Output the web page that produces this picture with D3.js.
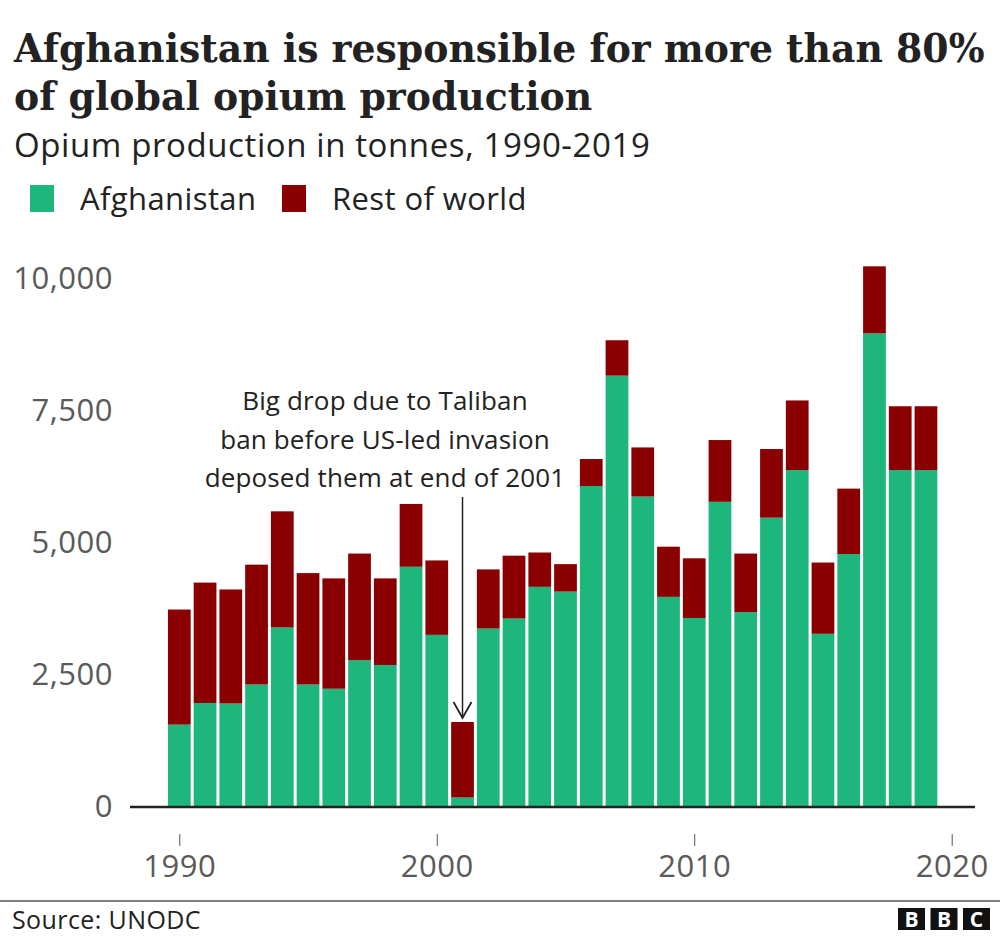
<!DOCTYPE html>
<html>
<head>
<meta charset="utf-8">
<script src="https://cdn.jsdelivr.net/npm/d3@7"></script>
<style>
    body { margin: 0; background: #fff; }
    text { font-family: "Open Sans", "Noto Sans", sans-serif; }
</style>
</head>
<body>
<main></main>
<script>
const years = [1990, 1991, 1992, 1993, 1994, 1995, 1996, 1997, 1998, 1999,
               2000, 2001, 2002, 2003, 2004, 2005, 2006, 2007, 2008, 2009,
               2010, 2011, 2012, 2013, 2014, 2015, 2016, 2017, 2018, 2019];
const afghanistan = [1560, 1970, 1960, 2320, 3400, 2320, 2240, 2780, 2690, 4550,
                     3260, 180, 3380, 3570, 4170, 4080, 6080, 8170, 5880, 3980,
                     3580, 5780, 3690, 5480, 6380, 3280, 4790, 8970, 6380, 6380];
const restOfWorld = [2180, 2280, 2160, 2270, 2200, 2110, 2090, 2020, 1640, 1190,
                     1410, 1430, 1120, 1190, 650, 520, 510, 670, 930, 950,
                     1130, 1170, 1110, 1300, 1320, 1350, 1240, 1270, 1210, 1210];
const seriesNames = ["Afghanistan", "Rest of world"];
const yTicks = [0, 2500, 5000, 7500, 10000];
const xTicks = [1990, 2000, 2010, 2020];
const annotationLines = ["Big drop due to Taliban", "ban before US-led invasion", "deposed them at end of 2001"];

const svgSize = { width: 1000, height: 938 };
const colors = { "Afghanistan": "#1db77d", "Rest of world": "#8a0000" };
const baseY = 807;

const svg = d3.select("main")
    .append("svg")
    .attr("width", svgSize.width)
    .attr("height", svgSize.height);

// title: serif bold, squeezed horizontally to the reference width
const titleLines = ["Afghanistan is responsible for more than 80%", "of global opium production"];
const titleText = svg.selectAll(".title")
    .data(titleLines)
    .enter()
    .append("text")
    .attr("class", "title")
    .style("font-family", "'DejaVu Serif', serif")
    .attr("font-weight", "bold")
    .attr("font-size", 40)
    .attr("fill", "#222")
    .text(d => d);
const sx = 971 / titleText.node().getComputedTextLength();
titleText.attr("transform", (d, i) => `translate(14,${62 + i * 48}) scale(${sx},1)`);

svg.append("text")
    .attr("x", 14).attr("y", 157)
    .attr("font-size", 33).attr("letter-spacing", 0.6).attr("fill", "#222")
    .text("Opium production in tonnes, 1990-2019");

// legend
const legendX = [30, 282];
seriesNames.forEach((name, i) => {
    svg.append("rect")
        .attr("x", legendX[i]).attr("y", 185)
        .attr("width", 24).attr("height", 27)
        .attr("fill", colors[name]);
    svg.append("text")
        .attr("x", legendX[i] + 50).attr("y", 210)
        .attr("font-size", 31).attr("letter-spacing", 0.4).attr("fill", "#222")
        .text(name);
});

// scales
const xScale = d3.scaleLinear()
    .domain([1990, 2020])
    .range([179.3, 951.7]);
const yScale = d3.scaleLinear()
    .domain([0, 10000])
    .range([baseY, 279]);
const step = xScale(1991) - xScale(1990);
const barWidth = step - 3;

// y axis labels only
svg.append("g")
    .attr("transform", "translate(113,0)")
    .call(d3.axisLeft(yScale).tickValues(yTicks).tickFormat(d3.format(",")).tickSize(0).tickPadding(0))
    .call(g => g.select(".domain").remove())
    .call(g => g.selectAll("text")
        .attr("font-family", "'Open Sans', sans-serif")
        .attr("font-size", 31).attr("letter-spacing", 0.5).attr("fill", "#5a5a5a"));

// stacked bars
const table = years.map((y, i) => ({ year: y, "Afghanistan": afghanistan[i], "Rest of world": restOfWorld[i] }));
const stacked = d3.stack().keys(seriesNames)(table);

svg.append("g")
    .selectAll("g")
    .data(stacked)
    .enter()
    .append("g")
    .attr("fill", d => colors[d.key])
    .selectAll("rect")
    .data(d => d)
    .enter()
    .append("rect")
    .attr("x", d => xScale(d.data.year) - barWidth / 2)
    .attr("y", d => yScale(d[1]))
    .attr("width", barWidth)
    .attr("height", d => yScale(d[0]) - yScale(d[1]));

// baseline
svg.append("line")
    .attr("x1", 130).attr("x2", 975)
    .attr("y1", baseY).attr("y2", baseY)
    .attr("stroke", "#222").attr("stroke-width", 2.5);

// x axis
svg.append("g")
    .attr("transform", "translate(0,834)")
    .call(d3.axisBottom(xScale).tickValues(xTicks).tickFormat(d => d).tickSize(12).tickPadding(9))
    .call(g => g.select(".domain").remove())
    .call(g => g.selectAll("line").attr("stroke", "#555"))
    .call(g => g.selectAll("text")
        .attr("font-family", "'Open Sans', sans-serif")
        .attr("font-size", 31).attr("letter-spacing", 0.5).attr("fill", "#5a5a5a"));

// annotation
svg.append("text")
    .attr("text-anchor", "middle")
    .attr("font-size", 26).attr("letter-spacing", 0.15).attr("fill", "#222")
    .selectAll("tspan")
    .data(annotationLines)
    .enter()
    .append("tspan")
    .attr("x", 385)
    .attr("y", (d, i) => 410 + i * 38.5)
    .text(d => d);

const arrowX = xScale(2001);
const arrowTip = yScale(afghanistan[11] + restOfWorld[11]) - 4;
svg.append("line")
    .attr("x1", arrowX).attr("x2", arrowX)
    .attr("y1", 497).attr("y2", arrowTip)
    .attr("stroke", "#222").attr("stroke-width", 1.5);
svg.append("path")
    .attr("d", `M${arrowX - 9},${arrowTip - 16} L${arrowX},${arrowTip} L${arrowX + 9},${arrowTip - 16}`)
    .attr("fill", "none").attr("stroke", "#222").attr("stroke-width", 1.8);

// footer
svg.append("line")
    .attr("x1", 0).attr("x2", 1000)
    .attr("y1", 901).attr("y2", 901)
    .attr("stroke", "#555").attr("stroke-width", 1.5);

svg.append("text")
    .attr("x", 12).attr("y", 929)
    .attr("font-size", 25).attr("letter-spacing", 0.4).attr("fill", "#222")
    .text("Source: UNODC");

const logo = svg.append("g").attr("transform", "translate(898,908)");
["B", "B", "C"].forEach((letter, i) => {
    logo.append("rect")
        .attr("x", i * 32.5).attr("y", 0)
        .attr("width", 27).attr("height", 22)
        .attr("fill", "#111");
    logo.append("text")
        .attr("x", i * 32.5 + 13.5).attr("y", 19)
        .attr("text-anchor", "middle")
        .attr("font-family", "'DejaVu Sans', sans-serif")
        .attr("font-weight", "bold")
        .attr("font-size", 21).attr("fill", "#fff")
        .text(letter);
});
</script>
</body>
</html>
